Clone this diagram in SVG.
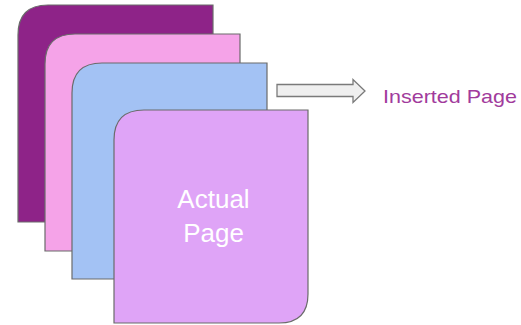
<svg xmlns="http://www.w3.org/2000/svg" width="521" height="325" viewBox="0 0 521 325">
<style>
.pg{stroke:#6b6b6b;stroke-width:1.2}
.lbl{font-family:"Liberation Sans",Arial,sans-serif}
</style>
<rect width="521" height="325" fill="#ffffff"/>
<g id="page1"><path class="pg" fill="#8e2388" d="M18,222 V35 Q18,5 48,5 H213 V222 Z"/></g>
<g id="page2"><path class="pg" fill="#f5a3e8" d="M45,251 V64 Q45,34 75,34 H240 V251 Z"/></g>
<g id="page3"><path class="pg" fill="#a3c2f4" d="M72,279 V93 Q72,63 102,63 H267 V279 Z"/></g>
<g id="page4">
<path class="pg" fill="#dfa4f7" d="M114,323 V140 Q114,110 144,110 H308 V294 Q308,323 279,323 Z"/>
<text class="lbl" x="213.5" y="208" font-size="26" fill="#ffffff" text-anchor="middle">Actual</text>
<text class="lbl" x="213.5" y="242" font-size="26" fill="#ffffff" text-anchor="middle">Page</text>
</g>
<g id="connectors">
<path d="M277,84.5 H353 V79.5 L365,91 L353,102.5 V96.5 H277 Z" fill="#efefef" stroke="#7a7a7a" stroke-width="1.3" stroke-linejoin="miter"/>
</g>
<g id="inserted">
<text class="lbl" x="383" y="103" font-size="19" fill="#a13b9c" textLength="134" lengthAdjust="spacingAndGlyphs">Inserted Page</text>
</g>
</svg>
